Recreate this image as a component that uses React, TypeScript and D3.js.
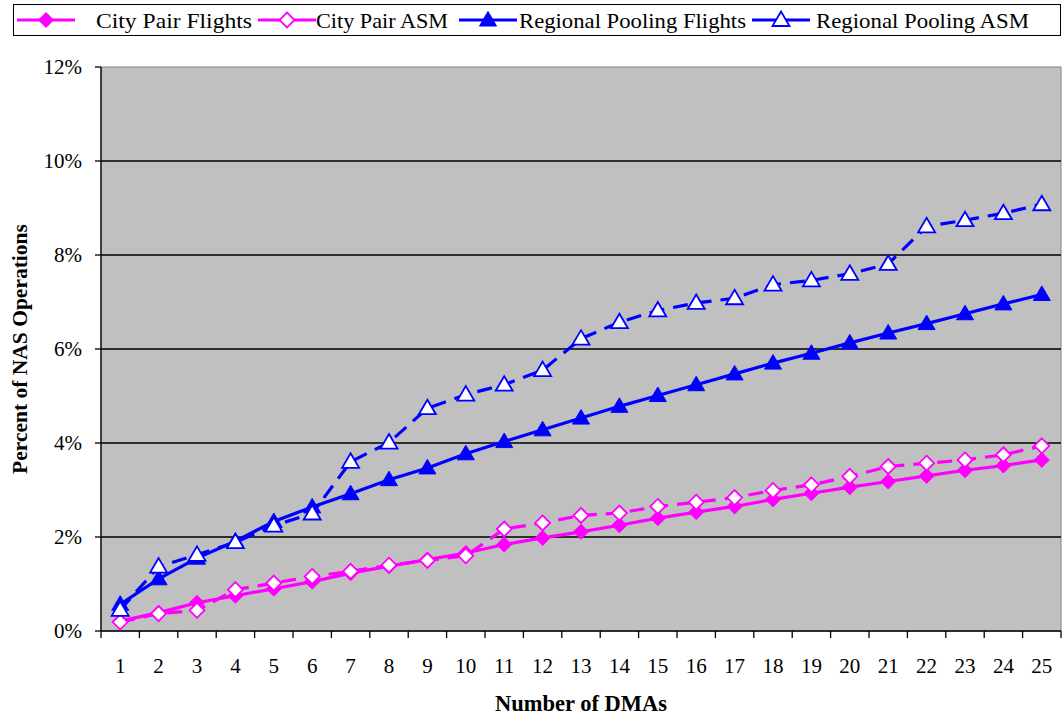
import React from "react";
import * as d3 from "d3";

const categories = [1,2,3,4,5,6,7,8,9,10,11,12,13,14,15,16,17,18,19,20,21,22,23,24,25];
const cityPairFlights = [0.21,0.39,0.6,0.75,0.9,1.05,1.23,1.38,1.52,1.66,1.84,1.98,2.11,2.25,2.4,2.53,2.65,2.8,2.93,3.06,3.18,3.3,3.42,3.52,3.64];
const cityPairASM = [0.19,0.37,0.44,0.88,1.02,1.16,1.27,1.4,1.5,1.6,2.17,2.3,2.46,2.51,2.65,2.74,2.84,2.99,3.11,3.29,3.5,3.57,3.64,3.75,3.94];
const regionalFlights = [0.57,1.11,1.55,1.91,2.33,2.64,2.92,3.22,3.47,3.77,4.03,4.28,4.53,4.78,5.01,5.24,5.47,5.7,5.91,6.13,6.34,6.54,6.75,6.96,7.16];
const regionalASM = [0.45,1.37,1.62,1.89,2.24,2.5,3.6,4.01,4.74,5.03,5.24,5.55,6.22,6.57,6.82,6.98,7.08,7.37,7.46,7.6,7.81,8.61,8.74,8.89,9.08];
const yTicks = [0,2,4,6,8,10,12];
const seriesNames = ["City Pair Flights","City Pair ASM","Regional Pooling Flights","Regional Pooling ASM"];

type Marker = "diamond" | "triangle";
const seriesDefs = [
  { name: seriesNames[0], values: cityPairFlights, color: "#FF00FF", dashed: false, marker: "diamond" as Marker, filled: true },
  { name: seriesNames[1], values: cityPairASM, color: "#FF00FF", dashed: true, marker: "diamond" as Marker, filled: false },
  { name: seriesNames[2], values: regionalFlights, color: "#0000FF", dashed: false, marker: "triangle" as Marker, filled: true },
  { name: seriesNames[3], values: regionalASM, color: "#0000FF", dashed: true, marker: "triangle" as Marker, filled: false },
];

const W = 1062, H = 719;
const left = 101, right = 1061, top = 67, bottom = 631;
const FONT = "Liberation Serif, Tinos, DejaVu Serif, serif";

function markerPath(kind: Marker) {
  if (kind === "diamond") return "M0,-7.5L7.5,0L0,7.5L-7.5,0Z";
  return "M0,-8.5L8.5,6L-8.5,6Z";
}

const txt = { fontFamily: FONT };

export default function App() {
  const x = d3.scaleBand<number>().domain(categories).range([left, right]).padding(0);
  const y = d3.scaleLinear().domain([0, 12]).range([bottom, top]);
  const cx = (c: number) => (x(c) as number) + x.bandwidth() / 2;
  const line = d3.line<number>().x((_, i) => cx(categories[i])).y((v) => y(v));
  const tickXs = d3.range(categories.length + 1).map((i) => left + i * x.bandwidth());

  const legendItems = [
    { lx: 17, tx: 96, w: 156 },
    { lx: 258, tx: 316, w: 132 },
    { lx: 459, tx: 519, w: 227 },
    { lx: 752, tx: 816, w: 213 },
  ];

  return (
    <div style={{ position: "fixed", left: 0, top: 0 }}>
      <svg width={W} height={H} style={{ display: "block", background: "#fff" }}>
        <rect x={left} y={top} width={right - left} height={bottom - top} fill="#C0C0C0" stroke="#808080" strokeWidth={1} />
        {yTicks.map((t) => (
          <g key={t}>
            {t > 0 && t < 12 && <line x1={left} x2={right} y1={y(t)} y2={y(t)} stroke="#000" strokeWidth={1.3} />}
            <line x1={left - 6} x2={left} y1={y(t)} y2={y(t)} stroke="#000" strokeWidth={1.3} />
            <text x={82} y={y(t)} dy="0.35em" textAnchor="end" style={txt} fontSize={21}>{t}%</text>
          </g>
        ))}
        <line x1={left} x2={left} y1={top} y2={bottom} stroke="#000" strokeWidth={1.3} />
        <line x1={left} x2={right} y1={bottom} y2={bottom} stroke="#000" strokeWidth={1.3} />
        {tickXs.map((tx, i) => (
          <line key={i} x1={tx} x2={tx} y1={bottom} y2={bottom + 7} stroke="#000" strokeWidth={1.3} />
        ))}
        {categories.map((c) => (
          <text key={c} x={cx(c)} y={666} dy="0.35em" textAnchor="middle" style={txt} fontSize={21}>{c}</text>
        ))}
        <text x={581} y={711} textAnchor="middle" style={txt} fontSize={22.5} fontWeight="bold">Number of DMAs</text>
        <text transform={`translate(27,${(top + bottom) / 2}) rotate(-90)`} textAnchor="middle" style={txt} fontSize={21.5} fontWeight="bold">Percent of NAS Operations</text>

        {seriesDefs.map((s) => (
          <g key={s.name}>
            <path d={line(s.values) || ""} fill="none" stroke={s.color} strokeWidth={3.2} strokeDasharray={s.dashed ? "15,9" : undefined} />
            {s.values.map((v, i) => (
              <path key={i} d={markerPath(s.marker)} transform={`translate(${cx(categories[i])},${y(v)})`} fill={s.filled ? s.color : "#fff"} stroke={s.color} strokeWidth={s.filled ? 1 : 1.8} />
            ))}
          </g>
        ))}

        <rect x={13.5} y={4.5} width={1047} height={31} fill="#fff" stroke="#000" strokeWidth={1} />
        {seriesDefs.map((s, i) => (
          <g key={s.name}>
            <line x1={legendItems[i].lx} x2={legendItems[i].lx + 58} y1={20} y2={20} stroke={s.color} strokeWidth={3.2} />
            <path d={markerPath(s.marker)} transform={`translate(${legendItems[i].lx + 29},20)`} fill={s.filled ? s.color : "#fff"} stroke={s.color} strokeWidth={s.filled ? 1 : 1.8} />
            <text x={legendItems[i].tx} y={20} dy="0.35em" style={txt} fontSize={22} textLength={legendItems[i].w} lengthAdjust="spacingAndGlyphs">{s.name}</text>
          </g>
        ))}
      </svg>
    </div>
  );
}
